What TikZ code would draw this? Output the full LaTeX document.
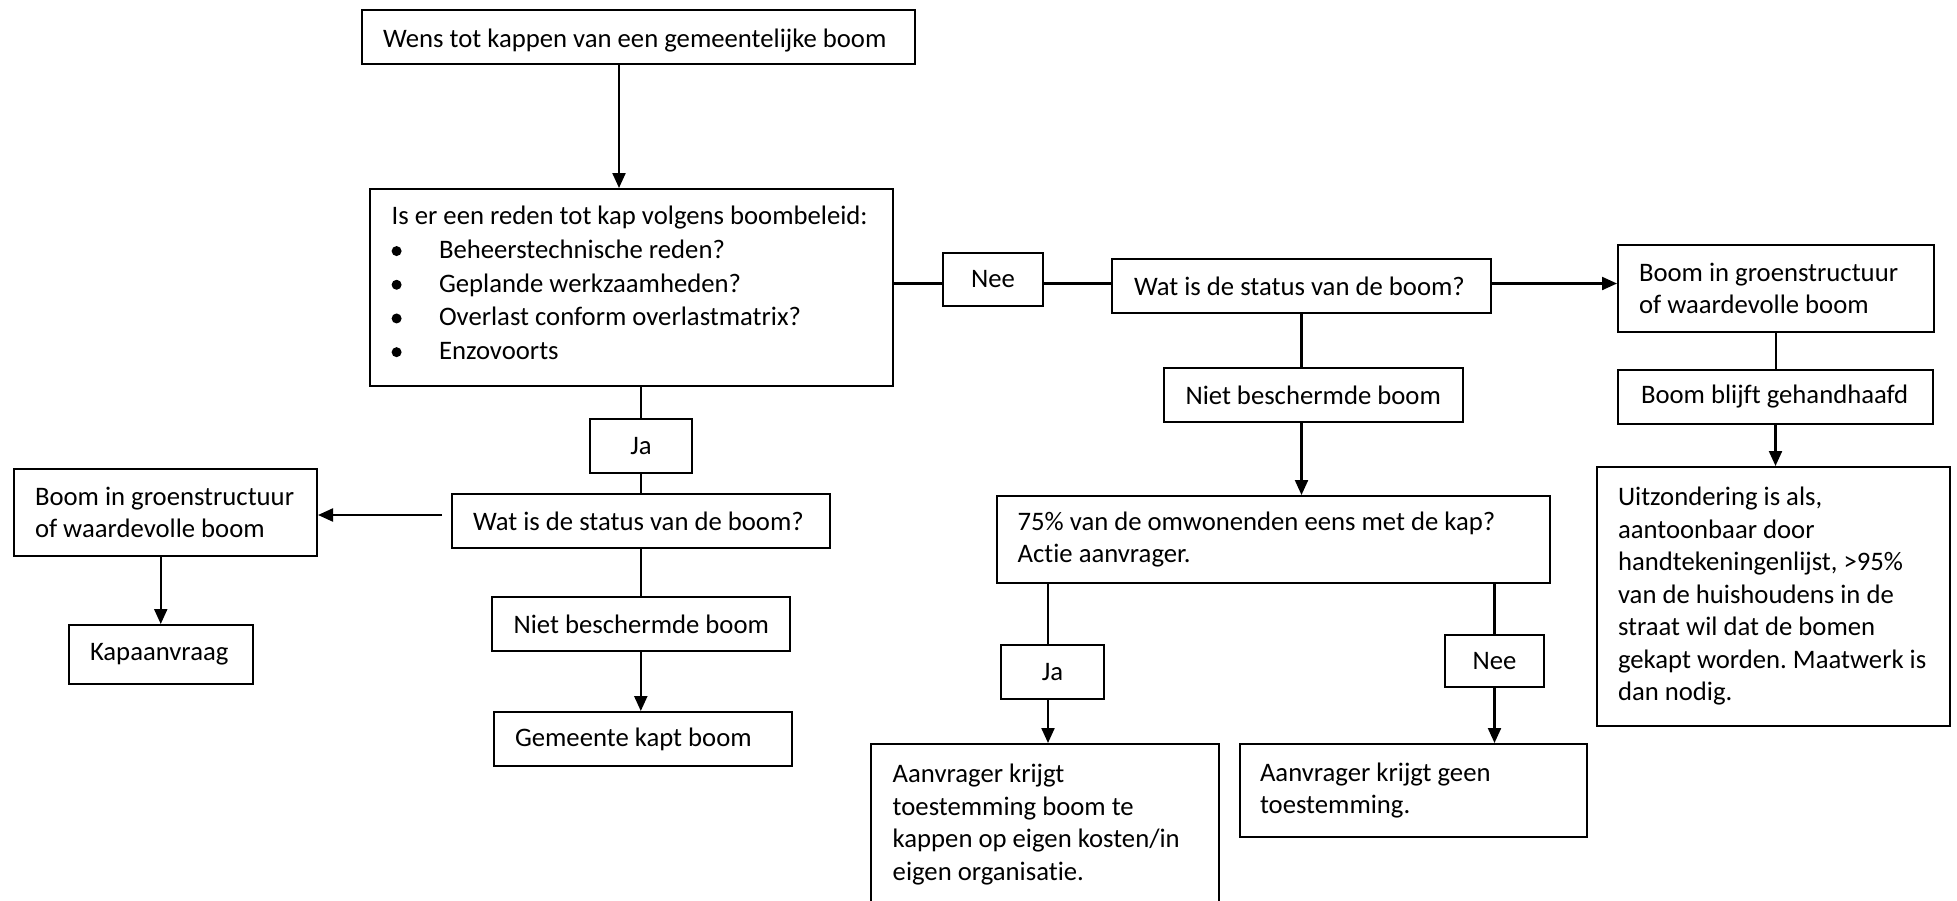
\documentclass[tikz,border=0pt]{standalone}
\usepackage{fontspec}
\setmainfont{Carlito}[Ligatures=NoCommon]
\usetikzlibrary{arrows.meta}
\frenchspacing
\newcommand\fs{\fontsize{26.7}{32.5}\selectfont}
\newcommand\LL[1]{\mbox{\spaceskip=0pt\xspaceskip=0pt #1}}
\newcommand\bul{\makebox[47.4pt][l]{\raisebox{2.5pt}{\tikz\fill[black] (0,0) circle (5pt);}}}
\tikzset{
  box/.style={draw, line width=2pt, rectangle, font=\fs, align=left, anchor=north west, inner ysep=0pt, inner xsep=21.5pt},
  cbox/.style={box, align=center},
  conn/.style={line width=2.2pt},
  arr/.style={conn, -{Triangle[length=15pt,width=13pt]}},
}
\begin{document}
\begin{tikzpicture}[x=1pt,y=1pt]
\useasboundingbox (0,0) rectangle (1957,-900);
\clip (0,0) rectangle (1957,-900);
% top
\node[box, inner xsep=21pt, text width=511pt, minimum height=54pt] (top) at (361,-9) {\rule{0pt}{25pt}\LL{Wens tot kappen van een gemeentelijke boom}};
\node[box, inner xsep=21.6pt, text width=479.8pt, minimum height=197pt, font=\fontsize{26.7}{33.7}\selectfont] (reason) at (369,-188)
 {\LL{Is er een reden tot kap volgens boombeleid:}\\
  \LL{\bul Beheerstechnische reden?}\\
  \LL{\bul Geplande werkzaamheden?}\\
  \LL{\bul Overlast conform overlastmatrix?}\\
  \LL{\bul Enzovoorts}\rule[-9pt]{0pt}{9pt}};
\node[cbox, inner xsep=10pt, text width=80pt, minimum height=53pt] (nee1) at (942,-252) {Nee};
\node[box, inner xsep=22pt, text width=335pt, minimum height=54pt] (stat2) at (1111,-258) {\LL{Wat is de status van de boom?}};
\node[box, inner xsep=21pt, text width=274pt, minimum height=87pt] (groen2) at (1617,-244) {\LL{Boom in groenstructuur}\\\LL{of waardevolle boom}};
\node[box, inner xsep=23pt, text width=269pt, minimum height=54pt] (blijft) at (1617,-369) {\LL{Boom blijft gehandhaafd}};
\node[box, inner xsep=21.5pt, text width=256pt, minimum height=54pt] (niet2) at (1163,-367) {\LL{Niet beschermde boom}};
\node[box, inner xsep=20.6pt, text width=511.8pt, minimum height=87pt] (perc) at (996,-495) {\LL{75\% van de omwonenden eens met de kap?}\\\LL{Actie aanvrager.}};
\node[box, inner xsep=21pt, text width=311pt, minimum height=259pt] (uitz) at (1596,-466)
 {\LL{Uitzondering is als,}\\\LL{aantoonbaar door}\\\LL{handtekeningenlijst, >95\%}\\\LL{van de huishoudens in de}\\\LL{straat wil dat de bomen}\\\LL{gekapt worden. Maatwerk is}\\\LL{dan nodig.}};
\node[cbox, inner xsep=10pt, text width=83pt, minimum height=54pt] (ja2) at (1000,-644) {Ja};
\node[cbox, inner xsep=10pt, text width=79pt, minimum height=52pt] (nee2) at (1444,-634) {Nee};
\node[box, inner xsep=21.7pt, inner ysep=20pt, text width=304.6pt] (aanv1) at (870,-743)
 {\LL{Aanvrager krijgt}\\\LL{toestemming boom te}\\\LL{kappen op eigen kosten/in}\\\LL{eigen organisatie.}};
\node[box, inner xsep=20pt, text width=307pt, minimum height=93pt] (aanv2) at (1239,-743) {\LL{Aanvrager krijgt geen}\\\LL{toestemming.}};
\node[cbox, inner xsep=10pt, text width=82pt, minimum height=54pt] (ja1) at (589,-418) {Ja};
\node[box, inner xsep=21pt, text width=336pt, minimum height=54pt] (stat1) at (451,-493) {\LL{Wat is de status van de boom?}};
\node[box, inner xsep=21.5pt, text width=260.5pt, minimum height=87pt] (groen1) at (12.5,-468) {\LL{Boom in groenstructuur}\\\LL{of waardevolle boom}};
\node[box, inner xsep=21.5pt, text width=141.5pt, minimum height=59pt] (kap) at (67.5,-624) {\LL{Kapaanvraag}};
\node[box, inner xsep=22pt, text width=254.4pt, minimum height=54pt] (niet1) at (490.6,-596) {\LL{Niet beschermde boom}};
\node[box, inner xsep=21.5pt, text width=255.5pt, minimum height=54pt] (gem) at (492.5,-711) {\LL{Gemeente kapt boom}};
% connectors
\draw[arr] ([xshift=-19.5pt]top.south) -- ([xshift=-12.5pt]reason.north);
\draw[conn] ([yshift=4pt]reason.east) -- ([yshift=-4pt]nee1.west);
\draw[conn] ([yshift=-4pt]nee1.east) -- ([yshift=2.5pt]stat2.west);
\draw[arr] ([yshift=2.5pt]stat2.east) -- ([yshift=5pt]groen2.west);
\draw[conn] (ja1.north |- reason.south) -- (ja1.north);
\draw[conn] (ja1.south) -- (ja1.south |- stat1.north);
\draw[arr] ([xshift=-9pt,yshift=6pt]stat1.west) -- ([yshift=-2.5pt]groen1.east);
\draw[conn] (stat1.south) -- (stat1.south |- niet1.north);
\draw[arr] (niet1.south) -- (niet1.south |- gem.north);
\draw[arr] (kap.north |- groen1.south) -- (kap.north);
\draw[conn] (stat2.south) -- (stat2.south |- niet2.north);
\draw[arr] (stat2.south |- niet2.south) -- (stat2.south |- perc.north);
\draw[conn] (groen2.south) -- (groen2.south |- blijft.north);
\draw[arr] (blijft.south) -- (blijft.south |- uitz.north);
\coordinate (j2) at ([xshift=-4.5pt]ja2.north);
\coordinate (j2b) at ([xshift=-4.5pt]ja2.south);
\draw[conn] (j2 |- perc.south) -- (j2);
\draw[arr] (j2b) -- (j2b |- aanv1.north);
\draw[conn] (nee2.north |- perc.south) -- (nee2.north);
\draw[arr] (nee2.south) -- (nee2.south |- aanv2.north);
\end{tikzpicture}
\end{document}
